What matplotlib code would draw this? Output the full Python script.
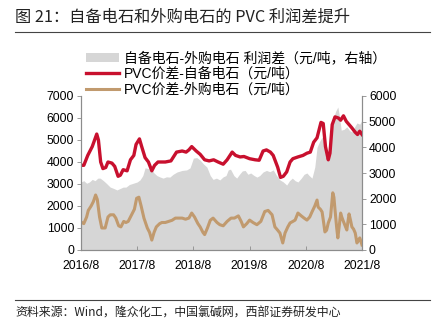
import matplotlib
matplotlib.use("Agg")
import matplotlib.pyplot as plt
from matplotlib.patches import Patch
from matplotlib.lines import Line2D

plt.rcParams['font.family'] = ['Liberation Sans', 'Noto Sans CJK SC', 'DejaVu Sans']

# x values are years after 2016/8
tick_pos = [0, 1, 2, 3, 4, 5]
tick_labels = ['2016/8', '2017/8', '2018/8', '2019/8', '2020/8', '2021/8']

# PVC spread, own calcium carbide (left axis)
t_red = [0.0, 0.05, 0.12, 0.2, 0.28, 0.31, 0.35, 0.39, 0.44, 0.48, 0.55, 0.6, 0.66, 0.7,
         0.75, 0.82, 0.88, 0.94, 0.98, 1.04, 1.08, 1.14, 1.2, 1.26, 1.31, 1.37, 1.5, 1.6,
         1.7, 1.8, 1.87, 1.92, 1.97, 2.05, 2.12, 2.2, 2.28, 2.36, 2.44, 2.53, 2.6, 2.69,
         2.75, 2.83, 2.9, 3.0, 3.1, 3.17, 3.24, 3.3, 3.37, 3.42, 3.5, 3.55, 3.6, 3.66,
         3.72, 3.77, 3.86, 3.95, 4.02, 4.08, 4.14, 4.2, 4.27, 4.31, 4.35, 4.4, 4.43, 4.47,
         4.52, 4.58, 4.62, 4.67, 4.72, 4.77, 4.82, 4.88, 4.92, 4.96, 5.0]
red = [3850, 3850, 4300, 4700, 5270, 5000, 4000, 3700, 3750, 4000, 3950, 3800, 3350, 3400,
       3650, 3600, 4100, 4300, 4800, 5050, 4700, 4200, 4000, 3600, 3850, 4000, 4000, 4050,
       4450, 4500, 4450, 4550, 4700, 4500, 4350, 4100, 4050, 4100, 4000, 3900, 4100, 4450,
       4300, 4230, 4250, 4150, 4100, 4080, 4500, 4550, 4450, 4300, 3760, 3300, 3350, 3550,
       4000, 4150, 4230, 4300, 4400, 4450, 4900, 5100, 5800, 5750, 4700, 4100, 4400, 5700,
       6050, 6000, 5900, 6100, 5850, 5700, 5550, 5350, 5250, 5400, 5250]

# PVC spread, purchased calcium carbide (left axis)
t_tan = [0.0, 0.05, 0.1, 0.13, 0.18, 0.22, 0.26, 0.29, 0.33, 0.37, 0.43, 0.48, 0.52, 0.58,
         0.62, 0.67, 0.71, 0.76, 0.8, 0.84, 0.9, 0.95, 0.99, 1.03, 1.07, 1.12, 1.18, 1.22,
         1.26, 1.3, 1.34, 1.4, 1.44, 1.5, 1.56, 1.62, 1.68, 1.74, 1.8, 1.86, 1.92, 1.97,
         2.02, 2.08, 2.12, 2.17, 2.2, 2.25, 2.3, 2.35, 2.42, 2.47, 2.53, 2.6, 2.67, 2.73,
         2.8, 2.85, 2.89, 2.95, 3.0, 3.06, 3.13, 3.2, 3.27, 3.33, 3.4, 3.45, 3.5, 3.54,
         3.59, 3.63, 3.68, 3.72, 3.77, 3.81, 3.86, 3.92, 3.97, 4.02, 4.07, 4.11, 4.16, 4.2,
         4.22, 4.26, 4.29, 4.32, 4.34, 4.37, 4.4, 4.44, 4.48, 4.5, 4.52, 4.55, 4.57, 4.6,
         4.62, 4.64, 4.66, 4.7, 4.73, 4.75, 4.77, 4.8, 4.82, 4.85, 4.88, 4.91, 4.93, 4.96,
         4.98, 5.0]
tan = [1270, 1200, 1500, 1800, 2000, 2200, 2500, 2300, 1500, 1000, 1000, 1500, 1600, 1600,
       1450, 1100, 1050, 1300, 1250, 1300, 1600, 1850, 2350, 2400, 2000, 1450, 1000, 800,
       450, 800, 1050, 1200, 1250, 1250, 1300, 1350, 1450, 1450, 1450, 1400, 1450, 1680,
       1500, 1200, 1050, 800, 700, 1000, 1350, 1450, 1250, 1150, 1100, 1300, 1450, 1450,
       1550, 1300, 1050, 1200, 1360, 1250, 1150, 1300, 1750, 1800, 1600, 1050, 900, 770,
       320, 770, 1050, 1230, 1300, 1360, 1680, 1550, 1450, 1360, 1500, 1730, 2000, 2270,
       1950, 1850, 1730, 1200, 820, 900, 1230, 1500, 2600, 2400, 1820, 1000, 550, 1200,
       1680, 1500, 1360, 1100, 910, 1300, 1640, 1300, 1050, 950, 770, 320, 400, 550,
       400, 230]

# profit difference own vs purchased (right axis)
t_gray = [0.0, 0.05, 0.1, 0.15, 0.2, 0.25, 0.3, 0.34, 0.4, 0.45, 0.52, 0.58, 0.64, 0.7,
          0.75, 0.8, 0.86, 0.93, 1.0, 1.05, 1.1, 1.14, 1.17, 1.22, 1.26, 1.3, 1.35, 1.4,
          1.46, 1.52, 1.58, 1.64, 1.71, 1.8, 1.88, 1.94, 2.0, 2.06, 2.12, 2.18, 2.24, 2.3,
          2.35, 2.41, 2.47, 2.53, 2.58, 2.62, 2.66, 2.72, 2.77, 2.82, 2.87, 2.92, 2.97, 3.02,
          3.08, 3.13, 3.18, 3.24, 3.3, 3.36, 3.42, 3.48, 3.54, 3.6, 3.66, 3.71, 3.76, 3.81,
          3.86, 3.92, 3.97, 4.02, 4.06, 4.11, 4.16, 4.2, 4.25, 4.29, 4.33, 4.38, 4.43, 4.48,
          4.53, 4.57, 4.6, 4.63, 4.68, 4.73, 4.78, 4.82, 4.87, 4.91, 4.96, 5.0]
gray = [2650, 2700, 2600, 2650, 2750, 2700, 2800, 2800, 2700, 2600, 2450, 2400, 2340, 2400,
        2450, 2450, 2550, 2600, 2650, 2730, 2900, 3200, 3190, 3150, 3120, 3000, 2900, 2850,
        2800, 2850, 2840, 2950, 3040, 3100, 3120, 3200, 3580, 3600, 3500, 3350, 3230, 2900,
        2750, 2800, 2730, 2850, 2900, 3120, 3150, 2900, 2800, 2950, 3080, 3100, 2950, 3000,
        2900, 2840, 2900, 3040, 3100, 3050, 3120, 2900, 2730, 2650, 2530, 2700, 2800, 2700,
        2650, 2800, 2950, 3000, 2900, 2800, 3230, 4000, 4250, 4400, 4100, 3620, 4290, 5060,
        5400, 5570, 5200, 4670, 4700, 4800, 4650, 4600, 4800, 4950, 4900, 5060]

c_red = '#C8102E'
c_tan = '#C19A6E'
c_gray = '#D6D6D6'
c_spine = '#8C8C8C'

fig = plt.figure(figsize=(4.38, 3.28), dpi=100)
ax = fig.add_axes([81 / 438, 1 - 250 / 328, (362 - 81) / 438, (250 - 96) / 328])
ax2 = ax.twinx()

ax2.fill_between(t_gray, gray, 0, color=c_gray, linewidth=0)
ax.plot(t_red, red, color=c_red, lw=2.4, solid_joinstyle='round')
ax.plot(t_tan, tan, color=c_tan, lw=2.2, solid_joinstyle='round')

ax.set_zorder(ax2.get_zorder() + 1)
ax.patch.set_visible(False)

ax.set_xlim(0, 5)
ax.set_ylim(0, 7000)
ax2.set_ylim(0, 6000)
ax.set_yticks(range(0, 7001, 1000))
ax2.set_yticks(range(0, 6001, 1000))
ax.set_xticks(tick_pos)
ax.set_xticklabels(tick_labels)

for a in (ax, ax2):
    for s in a.spines.values():
        s.set_color(c_spine)
        s.set_linewidth(0.8)
    a.spines['top'].set_visible(False)
ax.tick_params(axis='y', direction='out', length=3, width=0.6, color=c_spine,
               labelsize=8.8, pad=2)
ax2.tick_params(axis='y', direction='out', length=3, width=0.6, color=c_spine,
                labelsize=8.8, pad=2)
ax.tick_params(axis='x', direction='in', length=3, width=0.6, color=c_spine,
               labelsize=8.8, pad=7)

handles = [Patch(facecolor=c_gray, edgecolor='none'),
           Line2D([], [], color=c_red, lw=2.4),
           Line2D([], [], color=c_tan, lw=2.2)]
labels = ['自备电石-外购电石 利润差（元/吨，右轴）',
          'PVC价差-自备电石（元/吨）',
          'PVC价差-外购电石（元/吨）']
fig.legend(handles, labels, loc='upper left', bbox_to_anchor=(86 / 438, 1 - 51 / 328),
           frameon=False, fontsize=10, handlelength=2.4, handleheight=0.6,
           handletextpad=0.3, labelspacing=0.12, borderpad=0, borderaxespad=0)

fig.text(15 / 438, 1 - 17 / 328, '图 21：自备电石和外购电石的 PVC 利润差提升',
         fontsize=11.7, va='center', ha='left', color='#222222',
         family=['Noto Sans CJK SC', 'DejaVu Sans'])
fig.add_artist(Line2D([15 / 438, 430 / 438], [1 - 32 / 328, 1 - 32 / 328],
                      color='#444444', lw=0.8))
fig.add_artist(Line2D([15 / 438, 430 / 438], [1 - 300 / 328, 1 - 300 / 328],
                      color='#444444', lw=0.8))
fig.text(15 / 438, 1 - 313 / 328, '资料来源：Wind，隆众化工，中国氯碱网，西部证券研发中心',
         fontsize=8.6, va='center', ha='left', color='#222222',
         family=['Noto Sans CJK SC', 'DejaVu Sans'])

fig.savefig('out.png', dpi=100)
